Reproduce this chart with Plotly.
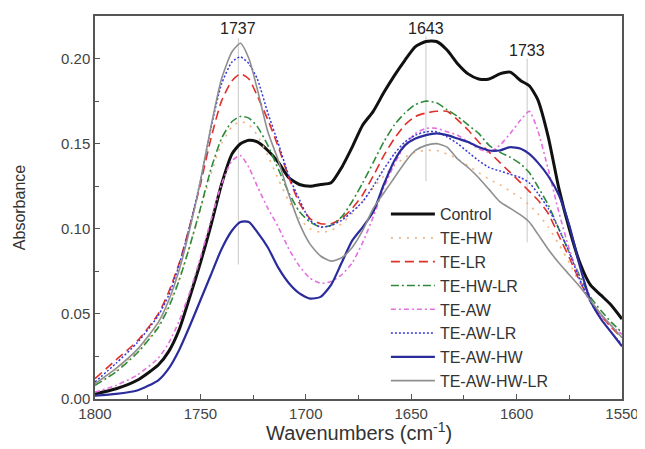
import plotly.graph_objects as go

wavenumber = [1800,1790,1780,1770,1765,1760,1755,1750,1745,1740,1735,1731,1727,1723,1718,1713,1708,1703,1698,1693,1688,1683,1678,1673,1668,1663,1658,1653,1648,1643,1638,1633,1628,1623,1618,1613,1608,1603,1598,1594,1590,1585,1580,1575,1570,1565,1560,1555,1550]

control = [.003,.006,.011,.020,.028,.041,.060,.080,.102,.126,.144,.150,.152,.151,.146,.139,.130,.126,.125,.126,.127,.136,.148,.161,.169,.180,.190,.199,.207,.210,.210,.205,.197,.191,.188,.188,.191,.192,.187,.184,.176,.154,.124,.100,.080,.067,.061,.055,.047]
te_hw = [.009,.017,.028,.043,.055,.071,.090,.111,.132,.150,.160,.163,.161,.155,.143,.129,.116,.106,.100,.098,.099,.103,.109,.116,.124,.131,.137,.142,.145,.146,.146,.144,.141,.137,.133,.129,.126,.122,.118,.114,.109,.101,.091,.080,.068,.057,.049,.042,.036]
te_lr = [.012,.023,.034,.050,.063,.080,.102,.126,.153,.175,.187,.191,.188,.178,.164,.148,.130,.115,.106,.103,.103,.106,.112,.120,.131,.143,.153,.161,.166,.168,.169,.169,.164,.158,.151,.145,.139,.133,.127,.122,.117,.109,.096,.083,.069,.058,.049,.042,.036]
te_hw_lr = [.008,.016,.027,.042,.054,.070,.090,.112,.135,.153,.163,.166,.165,.160,.149,.135,.121,.110,.104,.101,.102,.107,.116,.127,.139,.151,.161,.168,.173,.175,.174,.170,.166,.161,.156,.149,.145,.142,.138,.133,.125,.114,.100,.086,.072,.060,.052,.045,.039]
te_aw = [.004,.008,.014,.024,.033,.046,.063,.083,.105,.126,.140,.143,.136,.125,.112,.101,.088,.078,.071,.068,.069,.073,.080,.092,.107,.124,.138,.149,.156,.159,.159,.157,.155,.151,.147,.145,.149,.156,.164,.169,.158,.135,.110,.088,.070,.057,.049,.043,.038]
te_aw_lr = [.010,.021,.033,.049,.061,.079,.102,.128,.159,.185,.198,.201,.197,.188,.168,.150,.131,.117,.105,.101,.102,.105,.110,.116,.125,.135,.144,.151,.155,.157,.157,.154,.150,.145,.140,.136,.134,.132,.130,.127,.121,.112,.100,.086,.070,.057,.047,.039,.032]
te_aw_hw = [.002,.003,.005,.011,.018,.029,.043,.058,.073,.088,.099,.104,.104,.098,.089,.077,.068,.062,.059,.060,.067,.080,.093,.101,.110,.126,.140,.149,.153,.155,.156,.155,.153,.151,.148,.146,.146,.148,.147,.144,.139,.131,.120,.102,.078,.058,.047,.039,.031]
te_aw_hw_lr = [.009,.018,.029,.045,.058,.076,.100,.128,.160,.188,.204,.209,.200,.182,.157,.140,.120,.103,.091,.084,.081,.083,.089,.099,.112,.121,.130,.139,.146,.149,.150,.148,.141,.136,.130,.123,.116,.112,.108,.104,.097,.088,.080,.073,.066,.058,.050,.043,.036]

series_names = ["Control","TE-HW","TE-LR","TE-HW-LR","TE-AW","TE-AW-LR","TE-AW-HW","TE-AW-HW-LR"]
series_values = [control, te_hw, te_lr, te_hw_lr, te_aw, te_aw_lr, te_aw_hw, te_aw_hw_lr]

peak_positions = [1732, 1643, 1595]
peak_labels = ["1737", "1643", "1733"]
peak_line_top = [0.212, 0.213, 0.200]
peak_line_bottom = [0.079, 0.128, 0.092]
peak_label_y = [0.2175, 0.2175, 0.2045]

x_title = "Wavenumbers (cm<sup>-1</sup>)"
y_title = "Absorbance"

styles = [
    dict(color="#111111", width=3.0, dash="solid"),
    dict(color="#f3b27e", width=1.6, dash="2px,6px"),
    dict(color="#e0302a", width=1.6, dash="9px,5px"),
    dict(color="#2e8b3a", width=1.6, dash="8px,3px,2px,3px"),
    dict(color="#e46fe0", width=1.6, dash="5px,3px,2px,3px"),
    dict(color="#3838d8", width=1.5, dash="2px,2px"),
    dict(color="#2b2c9c", width=2.2, dash="solid"),
    dict(color="#8f8f8f", width=1.6, dash="solid"),
]

FONT = "Liberation Sans, Arial"

fig = go.Figure()

for xp, yt, yb in zip(peak_positions, peak_line_top, peak_line_bottom):
    fig.add_trace(go.Scatter(x=[xp, xp], y=[yt, yb], mode="lines",
                             line=dict(color="#c8c8c8", width=1), showlegend=False,
                             hoverinfo="skip"))

for name, vals, st in zip(series_names, series_values, styles):
    fig.add_trace(go.Scatter(x=wavenumber, y=vals, name=name, mode="lines",
                             line=dict(color=st["color"], width=st["width"], dash=st["dash"],
                                       shape="spline", smoothing=0.6)))

for xp, lab, ly in zip(peak_positions, peak_labels, peak_label_y):
    fig.add_annotation(x=xp, y=ly, text=lab, showarrow=False,
                       font=dict(size=16, color="#222222", family=FONT))

# x-axis title placed as a paper annotation so it sits close under the tick labels
fig.add_annotation(x=0.5, y=-0.085, xref="paper", yref="paper", text=x_title,
                   showarrow=False, xanchor="center", yanchor="middle",
                   font=dict(size=20, color="#333333", family=FONT))

axis_common = dict(showline=True, linecolor="#555555", linewidth=1.5, mirror=True,
                   ticks="inside", ticklen=5, tickwidth=1.2, tickcolor="#555555",
                   showgrid=False, zeroline=False,
                   tickfont=dict(size=15, color="#444444", family=FONT))

fig.update_xaxes(range=[1800, 1550], tickvals=[1800,1750,1700,1650,1600,1550],
                 minor=dict(tickvals=[1775,1725,1675,1625,1575], ticks="inside", ticklen=4,
                            tickcolor="#555555"),
                 **axis_common)
fig.update_yaxes(range=[0, 0.225], tickvals=[0, 0.05, 0.10, 0.15, 0.20], tickformat=".2f",
                 minor=dict(tickvals=[0.025, 0.075, 0.125, 0.175, 0.225], ticks="inside", ticklen=4,
                            tickcolor="#555555"),
                 title=dict(text=y_title, standoff=31,
                            font=dict(size=16, color="#333333", family=FONT)),
                 **axis_common)

# page body has an 8px margin: figure is sized so the plot area lands where the reference's does
fig.update_layout(
    width=637, height=441,
    margin=dict(l=87, r=17, t=6, b=50),
    paper_bgcolor="white", plot_bgcolor="white",
    font=dict(family=FONT, color="#333333"),
    legend=dict(x=0.552, y=0.527, xanchor="left", yanchor="top",
                bgcolor="rgba(0,0,0,0)", borderwidth=0,
                font=dict(size=16, color="#333333", family=FONT),
                tracegroupgap=0, itemwidth=44),
    showlegend=True,
)

fig.write_html("out.html")
